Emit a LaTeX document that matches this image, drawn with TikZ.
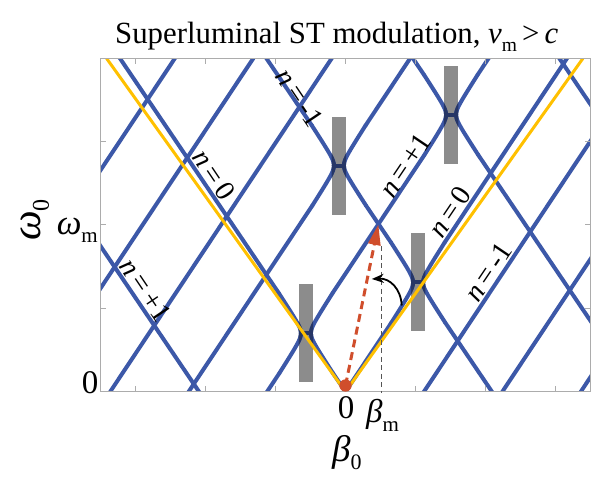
\documentclass[tikz,border=0pt]{standalone}
\usepackage{fontspec}
\setmainfont{Liberation Serif}
\usetikzlibrary{arrows.meta,calc}
\definecolor{bl}{RGB}{60,88,168}
\definecolor{navy}{RGB}{38,54,102}
\definecolor{yl}{RGB}{255,192,0}
\definecolor{rd}{RGB}{208,78,44}
\definecolor{gbar}{RGB}{140,140,140}
\definecolor{frm}{RGB}{172,172,172}
\newcommand{\Ux}[2]{345.5+33*(#1)+((#2)-167.7*(#1))/1.505}
\newcommand{\Dx}[2]{345.5+33*(#1)-((#2)-167.7*(#1))/1.478}
\newcommand{\gapcurves}[3]{%
 \draw[#3] plot[domain=0:40,samples=25,smooth] ({#1-(sqrt(25+(\x/1.478)^2)-0.458*(\x/40)^2)},{#2-\x});
 \draw[#3] plot[domain=0:40,samples=25,smooth] ({#1-(sqrt(25+(\x/1.505)^2)-0.466*(\x/40)^2)},{#2+\x});
 \draw[#3] plot[domain=0:40,samples=25,smooth] ({#1+(sqrt(25+(\x/1.505)^2)-0.466*(\x/40)^2)},{#2-\x});
 \draw[#3] plot[domain=0:40,samples=25,smooth] ({#1+(sqrt(25+(\x/1.478)^2)-0.458*(\x/40)^2)},{#2+\x});
 \draw[#3] (#1-5,#2) -- (#1+5,#2);
}
\begin{document}
\begin{tikzpicture}[x=1pt,y=-1pt,
  blueline/.style={draw=bl,line width=4pt,line cap=round},
  navyline/.style={draw=navy,line width=4pt,line cap=round},
  yline/.style={draw=yl,line width=3pt,line join=miter},
  frameline/.style={draw=frm,line width=1pt},
  nlab/.style={font=\fontsize{28.5}{30}\selectfont,inner sep=0pt},
  axlab/.style={font=\fontsize{33}{36}\selectfont,inner sep=0pt}]
\useasboundingbox (0,0) rectangle (598,478);
\begin{scope}
\clip (100,58.3) rectangle (590,391.7);
% gray bars
\foreach \xc/\yc in {305.93/333.22,418.07/282.48,338.93/165.52,451.07/114.78}
  \fill[gbar] (\xc-7.2,\yc-49) rectangle (\xc+7.2,\yc+49);
% up-right lines
\foreach \n/\a/\b in {-3/-20/360,-2/-20/360,-1/-20/360,3/-20/360,4/-20/360,5/-20/360,
  0/-20/69.22,0/149.22/360,1/-20/18.48,1/98.48/236.92,1/316.92/360,2/-20/186.18,2/266.18/360}
  \draw[blueline] ({\Ux{\n}{\a}},{391.7-\a}) -- ({\Ux{\n}{\b}},{391.7-\b});
% down-left lines
\foreach \n/\a/\b in {-1/-20/360,3/-20/360,
  0/-20/18.48,0/98.48/360,1/-20/69.22,1/149.22/186.18,1/266.18/360,2/-20/236.92,2/316.92/360}
  \draw[blueline] ({\Dx{\n}{\a}},{391.7-\a}) -- ({\Dx{\n}{\b}},{391.7-\b});
% gaps
\foreach \xc/\yc in {305.93/333.22,418.07/282.48,338.93/165.52,451.07/114.78}{
  \gapcurves{\xc}{\yc}{blueline}
  \begin{scope}
  \clip (\xc-7.2,\yc-49) rectangle (\xc+7.2,\yc+49);
  \gapcurves{\xc}{\yc}{navyline}
  \end{scope}
}
% light lines
\coordinate (yA) at (106.5,58.3);
\coordinate (yO) at (345.5,391.7);
\coordinate (yB) at (583,58.3);
\draw[yline] (yA) -- (yO) -- (yB);
\end{scope}
% frame and ticks
\draw[frameline] (100,58.3) rectangle (590,391.7);
\foreach \x in {135,205,275,345,415,485,555}{
  \draw[frameline] (\x,391.7) -- (\x,386.2);
  \draw[frameline] (\x,58.3) -- (\x,63.8);}
\foreach \y in {308.35,225,141.65}{
  \draw[frameline] (100,\y) -- (105.5,\y);
  \draw[frameline] (590,\y) -- (584.5,\y);}
% beta_m dashed guide
\coordinate (dt) at (381.7,246.5);
\coordinate (db) at (381.7,393);
\draw[draw={rgb,255:red,85;green,85;blue,85},line width=1.2pt,dash pattern=on 5pt off 3.5pt] (dt) -- (db);
% red arrow
\coordinate (O) at (345.5,385.5);
\coordinate (tip) at (378.3,225);
\draw[rd,line width=3pt,dash pattern=on 8pt off 5pt] (O) -- ($(tip)!18pt!(O)$);
\fill[rd] (tip) -- ($(tip)!20pt!(O)!6.5pt!90:(tip)$) -- ($(tip)!20pt!(O)!6.5pt!-90:(tip)$) -- cycle;
\fill[rd] (O) circle (6.2pt);
% curved arrow
\coordinate (ca) at (401.7,305.5);
\coordinate (cb) at (371.8,279);
\draw[black,line width=1.8pt,-{Stealth[length=12pt,width=9pt]}] (ca) .. controls (401,289) and (390,278) .. (cb);
% title
\node[anchor=base west,inner sep=0pt,font=\fontsize{30.8}{34}\selectfont] (title) at (115,43.3)
  {Superluminal ST modulation, \textit{v}\raisebox{-8pt}{\fontsize{19.5}{20}\selectfont m}\,>\,\textit{c}};
% axis labels
\node[axlab] (y0) at (90,383) {0};
\node[axlab] (x0) at (346,407.5) {0};
\node[anchor=base east,inner sep=0pt] (wm) at (98,235)
  {{\fontsize{35}{38}\selectfont\textit{ω}}\raisebox{-8pt}{\fontsize{21}{22}\selectfont m}};
\node[anchor=base west,inner sep=0pt] (bm) at (366,422.5)
  {{\fontsize{33}{36}\selectfont\textit{β}}\raisebox{-9pt}{\fontsize{21}{22}\selectfont m}};
\node[anchor=base west,inner sep=0pt] (b0) at (332,462)
  {{\fontsize{37}{40}\selectfont\textit{β}}\raisebox{-8pt}{\fontsize{22}{24}\selectfont 0}};
\node[anchor=base,rotate=90,inner sep=0pt] (w0) at (41,220)
  {{\fontsize{42}{44}\selectfont\textit{ω}}\raisebox{-8pt}{\fontsize{24}{26}\selectfont 0}};
% band labels
\node[nlab,rotate=-56] (l1) at (300,98) {\textit{n}\,=\,-1};
\node[nlab,rotate=-56] (l2) at (214,175) {\textit{n}\,=\,0};
\node[nlab,rotate=-56] (l3) at (146,290) {\textit{n}\,=\,+1};
\node[nlab,rotate=56] (l4) at (405,165) {\textit{n}\,=\,+1};
\node[nlab,rotate=56] (l5) at (450,212) {\textit{n}\,=\,0};
\node[nlab,rotate=56] (l6) at (488,272) {\textit{n}\,=\,-1};
\end{tikzpicture}
\end{document}
